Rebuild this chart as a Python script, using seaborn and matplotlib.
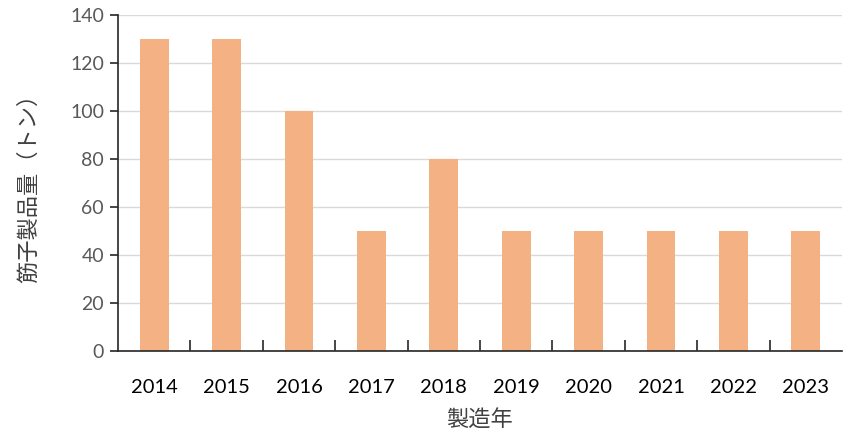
import matplotlib
matplotlib.use("Agg")
import matplotlib.pyplot as plt
import seaborn as sns
import pandas as pd
from matplotlib.ticker import FixedLocator, NullFormatter

years = ["2014", "2015", "2016", "2017", "2018", "2019", "2020", "2021", "2022", "2023"]
amounts = [130, 130, 100, 50, 80, 50, 50, 50, 50, 50]
y_ticks = [0, 20, 40, 60, 80, 100, 120, 140]

sns.set_theme(style="white")
plt.rcParams['font.family'] = ['Lato', 'Noto Sans CJK JP', 'DejaVu Sans']
plt.rcParams['xtick.direction'] = 'in'
plt.rcParams['ytick.direction'] = 'out'

df = pd.DataFrame({"year": years, "amount": amounts})

fig = plt.figure(figsize=(8.58, 4.38), dpi=100)
ax = fig.add_axes([118/858, 1-351/438, (842-118)/858, (351-15)/438])
ax.set_axisbelow(True)

sns.barplot(data=df, x="year", y="amount", color="#F4B183", saturation=1,
            width=0.4, ax=ax, linewidth=0, zorder=2)

ax.set_ylim(0, 140)
ax.set_xlim(-0.5, len(years) - 0.5)
ax.set_yticks(y_ticks)
ax.yaxis.grid(True, color="#D9D9D9", linewidth=1)
ax.xaxis.grid(False)

for s in ["top", "right"]:
    ax.spines[s].set_visible(False)
for s in ["left", "bottom"]:
    ax.spines[s].set_color("#262626")
    ax.spines[s].set_linewidth(1.2)
    ax.spines[s].set_zorder(4)

ax.tick_params(axis="y", which="major", direction="out", length=6, width=1.2,
               color="#262626", labelcolor="#595959", labelsize=14, pad=4, left=True)
ax.tick_params(axis="x", which="major", length=0, labelcolor="#000000", labelsize=14.5, pad=20)
ax.xaxis.set_minor_locator(FixedLocator([i - 0.5 for i in range(1, len(years))]))
ax.xaxis.set_minor_formatter(NullFormatter())
ax.tick_params(axis="x", which="minor", direction="in", length=8, width=1.2,
               color="#262626", bottom=True, top=False)

ax.set_xlabel("製造年", fontsize=16, color="#404040", labelpad=10)
ax.set_ylabel("筋子製品量（トン）", fontsize=16, color="#404040", labelpad=22)

fig.savefig("out.png", dpi=100)
